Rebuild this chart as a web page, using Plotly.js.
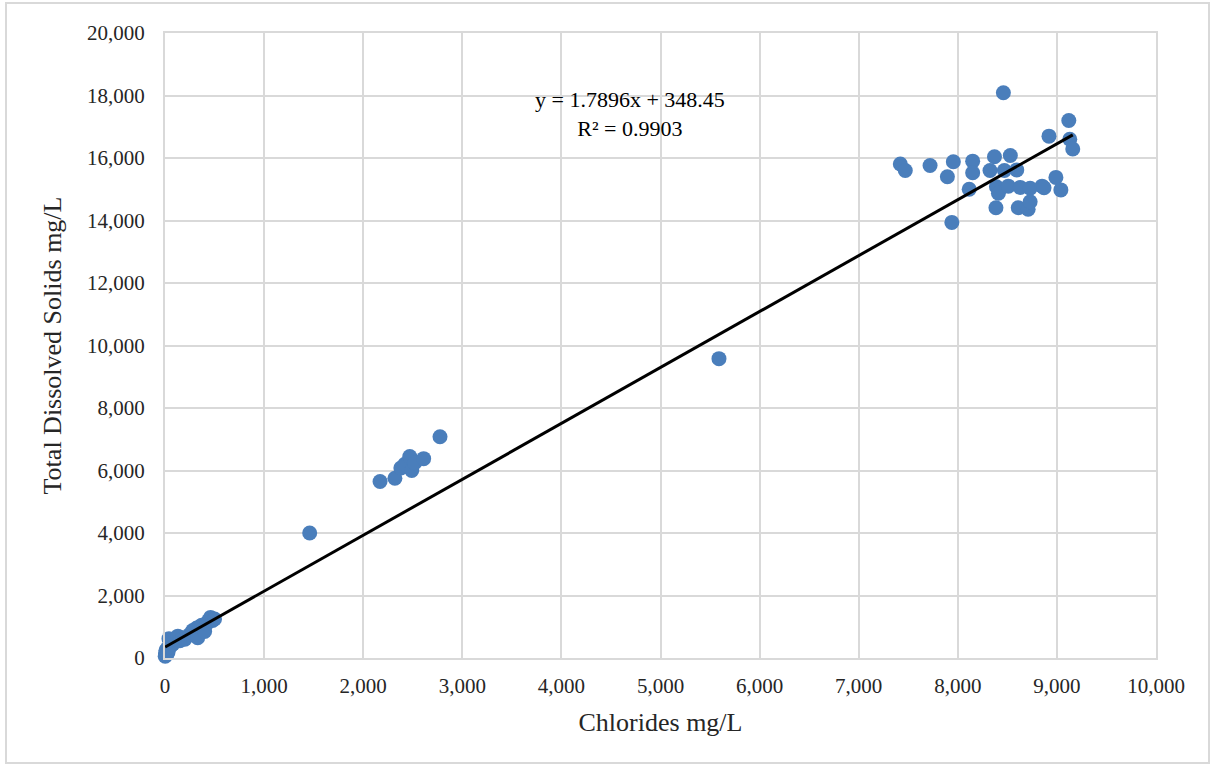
<!DOCTYPE html>
<html>
<head>
<meta charset="utf-8">
<script src="https://cdn.plot.ly/plotly-3.0.1.min.js"></script>
<style>
html,body{margin:0;padding:0;background:#fff;}
#wrap{position:relative;width:1214px;height:769px;}
#chart{position:absolute;left:0;top:0;width:1214px;height:769px;}
#frame{position:absolute;left:5px;top:2px;width:1205px;height:762px;border:2px solid #d9d9d9;box-sizing:border-box;pointer-events:none;}
</style>
</head>
<body>
<div id="wrap"><div id="chart"></div><div id="frame"></div></div>
<script>
// Chlorides (mg/L)
const chlorides = [
  2,5,8,10,15,20,25,30,40,50,60,80,100,130,150,180,200,250,280,300,320,330,350,370,400,420,440,460,480,500,
  1460,2170,2320,2380,2420,2470,2490,2520,2610,2775,5590,
  8460,9120,8920,9130,9160,7420,7470,7720,7955,7895,8150,8150,8115,8370,8530,8325,8470,8595,
  8390,8410,8510,8630,8730,8850,8870,8990,9040,8385,8610,8710,8730,7940
];
// Total Dissolved Solids (mg/L)
const tds = [
  60,150,100,250,200,120,300,180,620,350,550,450,600,700,550,650,600,750,880,900,960,650,1000,1050,850,1100,1200,1300,1200,1250,
  4000,5650,5750,6080,6200,6450,6000,6250,6380,7080,9580,
  18090,17200,16700,16600,16290,15810,15600,15760,15880,15400,15900,15530,15000,16040,16080,15600,15600,15620,
  15080,14870,15100,15060,15030,15100,15050,15380,14980,14410,14410,14360,14600,13940
];
const slope = 1.7896;
const intercept = 348.45;
const r2 = 0.9903;
const xTicks = [0,1000,2000,3000,4000,5000,6000,7000,8000,9000,10000];
const yTicks = [0,2000,4000,6000,8000,10000,12000,14000,16000,18000,20000];

const xMin = Math.min(...chlorides), xMax = Math.max(...chlorides);
const trendX = [xMin, xMax];
const trendY = trendX.map(v => slope * v + intercept);

const serif = 'Liberation Serif, Times New Roman, serif';

const data = [
  {x: chlorides, y: tds, type: 'scatter', mode: 'markers',
   marker: {color: '#4a7ebb', size: 15}, hoverinfo: 'x+y', showlegend: false, cliponaxis: false},
  {x: trendX, y: trendY, type: 'scatter', mode: 'lines',
   line: {color: '#000000', width: 3}, showlegend: false}
];

const layout = {
  width: 1214, height: 769,
  margin: {l: 165, r: 58, t: 33, b: 111},
  paper_bgcolor: 'rgba(0,0,0,0)', plot_bgcolor: '#ffffff',
  font: {family: serif, color: '#262626', size: 21},
  showlegend: false,
  xaxis: {
    range: [0, 10000], tickvals: xTicks, ticktext: xTicks.map(v => v.toLocaleString('en-US')),
    showgrid: true, gridcolor: '#d9d9d9', gridwidth: 2,
    showline: true, linecolor: '#d9d9d9', linewidth: 2, mirror: true,
    zeroline: false, ticks: '', ticklabelstandoff: 8,
    tickfont: {family: serif, size: 21, color: '#262626'},
    title: {text: 'Chlorides mg/L', font: {family: serif, size: 26, color: '#262626'}, standoff: 16}
  },
  yaxis: {
    range: [0, 20000], tickvals: yTicks, ticktext: yTicks.map(v => v.toLocaleString('en-US')),
    showgrid: true, gridcolor: '#d9d9d9', gridwidth: 2,
    showline: true, linecolor: '#d9d9d9', linewidth: 2, mirror: true,
    zeroline: false, ticks: '', ticklabelstandoff: 14,
    tickfont: {family: serif, size: 21, color: '#262626'},
    title: {text: 'Total Dissolved Solids mg/L', font: {family: serif, size: 26, color: '#262626'}, standoff: 18}
  },
  annotations: [{
    x: 4690, y: 17400, xref: 'x', yref: 'y',
    text: 'y = ' + slope + 'x + ' + intercept + '<br>R² = ' + r2,
    showarrow: false, align: 'center',
    font: {family: serif, size: 22, color: '#000000'}
  }]
};

Plotly.newPlot('chart', data, layout, {displayModeBar: false, staticPlot: true});
</script>
</body>
</html>
